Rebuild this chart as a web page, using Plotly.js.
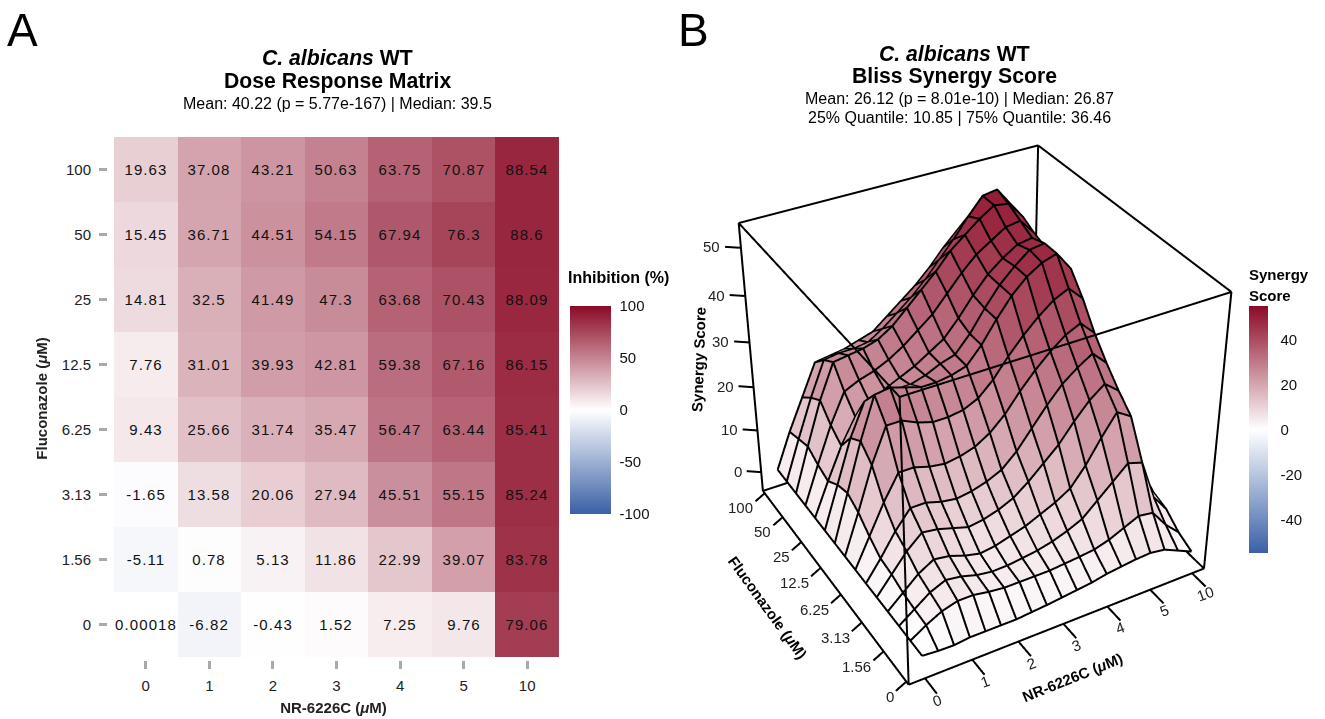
<!DOCTYPE html>
<html><head><meta charset="utf-8">
<script src="https://cdn.plot.ly/plotly-3.0.1.min.js"></script>
<style>
html,body{margin:0;padding:0;background:#fff;overflow:hidden;width:1325px;height:719px}
#g{position:absolute;left:0;top:-311px;width:1325px;height:1422px}
.heatmaplayer text{letter-spacing:1.1px}
</style></head><body><div id="g"></div>
<script>
const nrLabels=['0','1','2','3','4','5','10'];
const fluLabels=['0','1.56','3.13','6.25','12.5','25','50','100'];
const inhibition=[
[0.00018,-6.82,-0.43,1.52,7.25,9.76,79.06],
[-5.11,0.78,5.13,11.86,22.99,39.07,83.78],
[-1.65,13.58,20.06,27.94,45.51,55.15,85.24],
[9.43,25.66,31.74,35.47,56.47,63.44,85.41],
[7.76,31.01,39.93,42.81,59.38,67.16,86.15],
[14.81,32.5,41.49,47.3,63.68,70.43,88.09],
[15.45,36.71,44.51,54.15,67.94,76.3,88.6],
[19.63,37.08,43.21,50.63,63.75,70.87,88.54]];
const gridX=[0,1/3,2/3,1,4/3,5/3,2,7/3,8/3,3,10/3,11/3,4,13/3,14/3,5,16/3,17/3,6];
const gridY=[0,.5,1,1.5,2,2.5,3,3.5,4,4.5,5,5.5,6,6.5,7];
const synergy=[
[0,-0.3,-0.4,0,0,0,0,0.3,0.6,1,1.4,1.8,2.5,2.9,3.3,3.5,3,1.5,0],
[0,2.2,4,5,5,4.4,4,4,4,4,4.3,4.6,5,6,7.5,9,8.5,4.5,1.5],
[0,2.5,5,6.5,6,5,4.5,4.6,5,5.5,6.3,7.5,9,12,15,18,17,8,4],
[0,3,6,8,7.5,6.3,5.5,6,7,8,9.5,11,13,17,22,26.5,24.5,11.5,5],
[0,4,8,11,10.5,9.5,8.5,9,10,11.5,14,17,20,24,27.5,30,27.5,13,5.5],
[0,4.5,9.5,13.5,13.5,12.5,12,12.5,13.5,15,18,22,26,29.5,32,34,31,15,5.5],
[0,6.5,13,18.5,18.5,17.5,17,17.5,18.5,20.5,23.5,27.5,31,34,36.5,38,35,17,5],
[0,9,18.5,26,26,24.5,23.5,23.5,24,25.5,28.5,32.5,36,39,41.5,43,40,19,5],
[0,10.5,21,30,30.5,29.5,28.5,28.5,29,30,33.5,38,42,45,47,48,44,21,5],
[0,9.5,19,26,26.5,26.5,26.5,27.5,29,30,33.5,38,42,45,47.5,48,44.5,21,5.5],
[0,7.5,14.5,20,22,24,25.5,27,29,31,34.5,38.5,42,44.5,46.5,47,44,21,6],
[0,8.5,16.5,23,24.5,25.5,27,29,31.5,34,37.5,41,44,46,48,48.5,45,21.5,6],
[0,10,19.5,27,27.5,28,29,31,34,37,40,43.5,46,48.5,50.5,50,46.5,22,6],
[0,9,17.5,25,25.5,25.5,26,28,30.5,33,36,39.5,43,47,50.5,51,47,22,5.5],
[0,8,15,22,22.5,23,24,25,27.5,30,32.5,35.5,39,42,44,45,41,19,5]];
const zTicks=[0,10,20,30,40,50];
const xBox=[-0.34,6.29], yBox=[-0.1,7.1], zBox=[-4.6,55];
const xRange=[-0.84,6.79], yRange=[-0.85,7.85], zRange=[-6.6,57];
const xTickEnd=yBox[0]-0.5, yTickEnd=[xBox[0]-0.22,zBox[0]-1.2], zTickEnd=[xBox[0]-0.25,yBox[1]+0.2];
const lift=[-0.02,-0.04,0.28];

const W=1325,H=1422,OFF=311;
const fx=p=>p/W, fy=p=>1-(p+OFF)/H;
const font='"Liberation Sans",Arial,sans-serif';
const cs=[[0,'#3a60a6'],[0.25,'#9db0d3'],[0.5,'#ffffff'],[0.75,'#c58492'],[1,'#8b0a26']];
const ann=(text,x,y,size,o={})=>Object.assign({text,x:fx(x),y:fy(y),xref:'paper',yref:'paper',showarrow:false,
  xanchor:'center',yanchor:'middle',font:{family:font,size,color:'#000'}},o);

const heat={type:'heatmap',z:inhibition,xaxis:'x',yaxis:'y',colorscale:cs,zmin:-100,zmax:100,
  text:inhibition.map(r=>r.map(String)),texttemplate:'%{text}',textfont:{family:font,size:15,color:'#111'},hoverinfo:'skip',
  colorbar:{thicknessmode:'pixels',thickness:41,lenmode:'pixels',len:208,x:fx(570),xanchor:'left',xpad:0,ypad:0,
    y:fy(410),yanchor:'middle',outlinewidth:0,ticks:'outside',ticklen:6,tickcolor:'rgba(0,0,0,0)',tickmode:'array',
    tickvals:[-100,-50,0,50,100],ticktext:['-100','-50','0','50','100'],tickfont:{family:font,size:15,color:'#111'}}};

// surface as flat-coloured facets, one colour per grid cell
const mx=[],my=[],mz=[],fi=[],fj=[],fk=[],fc=[];
gridY.forEach((y,r)=>gridX.forEach((x,c)=>{mx.push(x);my.push(y);mz.push(synergy[r][c]);}));
const nx=gridX.length;
for(let r=0;r<gridY.length-1;r++)for(let c=0;c<nx-1;c++){
  const a=r*nx+c,b=a+1,d=a+nx,e=d+1;
  const v=(synergy[r][c]+synergy[r][c+1]+synergy[r+1][c]+synergy[r+1][c+1])/4;
  fi.push(a,a);fj.push(b,e);fk.push(e,d);fc.push(v,v);
}
const surf={type:'mesh3d',scene:'scene',x:mx,y:my,z:mz,i:fi,j:fj,k:fk,intensity:fc,intensitymode:'cell',colorscale:cs,cmin:-55,cmax:55,hoverinfo:'skip',
  flatshading:true,lighting:{ambient:1,diffuse:0,specular:0,fresnel:0,roughness:1},
  colorbar:{thicknessmode:'pixels',thickness:19,lenmode:'pixels',len:247,x:fx(1249),xanchor:'left',xpad:0,ypad:0,
    y:fy(429.5),yanchor:'middle',outlinewidth:0,ticks:'outside',ticklen:10,tickcolor:'rgba(0,0,0,0)',tickmode:'array',
    tickvals:[-40,-20,0,20,40],ticktext:['-40','-20','0','20','40'],tickfont:{family:font,size:15,color:'#111'}}};

// mesh lines
const gx=[],gy=[],gz=[];
const brk=()=>{gx.push(null);gy.push(null);gz.push(null);};
const pt=(x,y,z)=>{gx.push(x+lift[0]);gy.push(y+lift[1]);gz.push(z+lift[2]);};
gridY.forEach((y,r)=>{gridX.forEach((x,c)=>pt(x,y,synergy[r][c]));brk();});
gridX.forEach((x,c)=>{gridY.forEach((y,r)=>pt(x,y,synergy[r][c]));brk();});
const meshLines={type:'scatter3d',scene:'scene',mode:'lines',x:gx,y:gy,z:gz,line:{color:'#000',width:4},hoverinfo:'skip',showlegend:false};

// box frame and tick marks
const bx=[],by=[],bz=[];
const seg=(a,b)=>{bx.push(a[0],b[0],null);by.push(a[1],b[1],null);bz.push(a[2],b[2],null);};
[0,1].forEach(i=>[0,1].forEach(j=>{
  seg([xBox[0],yBox[i],zBox[j]],[xBox[1],yBox[i],zBox[j]]);
  seg([xBox[i],yBox[0],zBox[j]],[xBox[i],yBox[1],zBox[j]]);
  seg([xBox[i],yBox[j],zBox[0]],[xBox[i],yBox[j],zBox[1]]);
}));
nrLabels.forEach((_,i)=>seg([i,yBox[0],zBox[0]],[i,xTickEnd,zBox[0]]));
fluLabels.forEach((_,i)=>seg([xBox[0],i,zBox[0]],[yTickEnd[0],i,yTickEnd[1]]));
zTicks.forEach(v=>seg([xBox[0],yBox[1],v],[zTickEnd[0],zTickEnd[1],v]));
const frame={type:'scatter3d',scene:'scene',mode:'lines',x:bx,y:by,z:bz,line:{color:'#000',width:4},hoverinfo:'skip',showlegend:false};

const tickFont={family:font,size:15,color:'#222'};
const sa=(x,y,z,text,o)=>Object.assign({x,y,z,text,showarrow:false,font:tickFont,xanchor:'center',yanchor:'middle'},o);
const sceneAnn=[
  ...nrLabels.map((t,i)=>sa(i,xTickEnd,zBox[0],t,{textangle:-20,yshift:-7,xshift:0})),
  ...fluLabels.map((t,i)=>sa(yTickEnd[0],i,yTickEnd[1],t,{xanchor:'right',yshift:-6,xshift:0})),
  ...zTicks.map(v=>sa(zTickEnd[0],zTickEnd[1],v,String(v),{xanchor:'right',xshift:-3}))];

const ax3=(range)=>({title:{text:''},range,showticklabels:false,showgrid:false,zeroline:false,showbackground:false,showspikes:false,showline:false,ticks:''});
const layout={width:W,height:H,margin:{l:0,r:0,t:0,b:0},paper_bgcolor:'#fff',plot_bgcolor:'#fff',showlegend:false,
  xaxis:{domain:[fx(108),fx(559)],range:[-0.594,6.5],tickmode:'array',tickvals:nrLabels.map((_,i)=>i),ticktext:nrLabels,
    ticks:'outside',ticklen:8,tickwidth:3,tickcolor:'#aaa',showgrid:false,zeroline:false,showline:false,ticklabelstandoff:4,
    tickfont:{family:font,size:15,color:'#222'},title:{text:'<b>NR-6226C (<i>μ</i>M)</b>',standoff:9,font:{family:font,size:15,color:'#222'}}},
  yaxis:{domain:[fy(660),fy(137)],range:[-0.546,7.5],tickmode:'array',tickvals:fluLabels.map((_,i)=>i),ticktext:fluLabels,
    ticks:'outside',ticklen:8,tickwidth:3,tickcolor:'#aaa',showgrid:false,zeroline:false,showline:false,ticklabelstandoff:5,
    tickfont:{family:font,size:15,color:'#222'},title:{text:'<b>Fluconazole (<i>μ</i>M)</b>',standoff:10,font:{family:font,size:15,color:'#222'}}},
  scene:{domain:{x:[fx(629),1],y:[0,1]},bgcolor:'rgba(0,0,0,0)',aspectmode:'manual',
    aspectratio:{x:(xRange[1]-xRange[0])/(xBox[1]-xBox[0]),y:(yRange[1]-yRange[0])/(yBox[1]-yBox[0]),z:0.97*(zRange[1]-zRange[0])/(zBox[1]-zBox[0])},
    camera:{eye:{x:-2.03,y:-3.59,z:2.88},center:{x:0,y:0,z:0},up:{x:0,y:0,z:1},projection:{type:'perspective'}},
    xaxis:ax3(xRange),yaxis:ax3(yRange),zaxis:ax3(zRange),annotations:sceneAnn},
  annotations:[
    ann('A',22,30,46),ann('B',693,30,46),
    ann('<b><i>C. albicans</i> WT</b>',337,57,21.2),ann('<b>Dose Response Matrix</b>',337,81,21.2),
    ann('Mean: 40.22 (p = 5.77e-167) | Median: 39.5',337,103,16),
    ann('<b><i>C. albicans</i> WT</b>',955,53,21.2),ann('<b>Bliss Synergy Score</b>',955,76,21.2),
    ann('Mean: 26.12 (p = 8.01e-10) | Median: 26.87',960,98,16),
    ann('25% Quantile: 10.85 | 75% Quantile: 36.46',960,118,16),
    ann('<b>Inhibition (%)</b>',618,277,16),
    ann('<b>Synergy</b>',1247,274,15,{xanchor:'left'}),ann('<b>Score</b>',1247,295,15,{xanchor:'left'}),
    ann('<b>Synergy Score</b>',698,360,15,{textangle:-88}),
    ann('<b>Fluconazole (<i>μ</i>M)</b>',768,607,15,{textangle:54}),
    ann('<b>NR-6226C (<i>μ</i>M)</b>',1072,677,15,{textangle:-22})
  ]};
Plotly.newPlot('g',[heat,surf,meshLines,frame],layout,{displayModeBar:false});
</script></body></html>
